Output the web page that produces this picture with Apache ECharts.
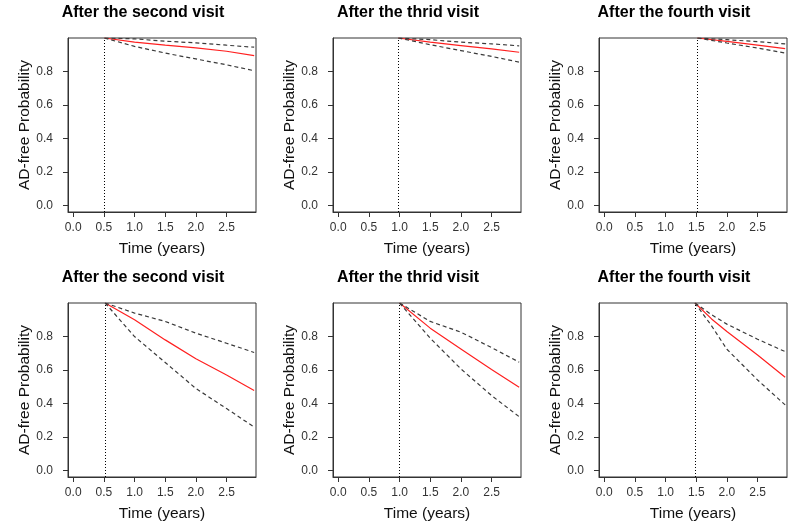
<!DOCTYPE html>
<html>
<head>
<meta charset="utf-8">
<title>AD-free Probability</title>
<script src="https://cdn.jsdelivr.net/npm/echarts@6/dist/echarts.min.js"></script>
<style>
    html, body { margin: 0; padding: 0; background: #fff; }
    #chart { width: 800px; height: 532px; }
</style>
</head>
<body>
<div id="chart"></div>
<script type="text/javascript">

    // panel titles and the visit time (dotted line) per panel
    var titles = ['After the second visit', 'After the thrid visit', 'After the fourth visit',
                  'After the second visit', 'After the thrid visit', 'After the fourth visit'];
    var visitTimes = [0.51, 0.98, 1.52, 0.52, 1.0, 1.48];

    var xTicks = [0, 0.5, 1, 1.5, 2, 2.5];
    var yTicks = [0, 0.2, 0.4, 0.6, 0.8];

    // top row
    var t1 = [0.51, 1.0, 1.5, 2.0, 2.5, 2.95];
    var est1 = [1.0, 0.975, 0.957, 0.941, 0.921, 0.895];
    var upper1 = [1.0, 0.995, 0.981, 0.971, 0.957, 0.945];
    var lower1 = [1.0, 0.95, 0.91, 0.875, 0.84, 0.805];

    var t2 = [0.98, 1.5, 2.0, 2.5, 2.95];
    var est2 = [1.0, 0.975, 0.955, 0.935, 0.915];
    var upper2 = [1.0, 0.99, 0.975, 0.965, 0.953];
    var lower2 = [1.0, 0.96, 0.925, 0.89, 0.856];

    var t3 = [1.52, 2.0, 2.5, 2.95];
    var est3 = [1.0, 0.98, 0.958, 0.937];
    var upper3 = [1.0, 0.99, 0.978, 0.965];
    var lower3 = [1.0, 0.97, 0.94, 0.91];

    // bottom row
    var t4 = [0.52, 1.0, 1.5, 2.0, 2.5, 2.95];
    var est4 = [1.0, 0.90, 0.78, 0.667, 0.571, 0.478];
    var upper4 = [1.0, 0.94, 0.89, 0.82, 0.76, 0.705];
    var lower4 = [1.0, 0.80, 0.645, 0.49, 0.37, 0.26];

    var t5 = [1.0, 1.5, 2.0, 2.5, 2.95];
    var est5 = [1.0, 0.85, 0.726, 0.603, 0.497];
    var upper5 = [1.0, 0.89, 0.826, 0.734, 0.647];
    var lower5 = [1.0, 0.79, 0.607, 0.448, 0.322];

    var t6 = [1.48, 1.75, 2.0, 2.5, 2.95];
    var est6 = [1.0, 0.905, 0.83, 0.69, 0.557];
    var upper6 = [1.0, 0.93, 0.874, 0.784, 0.71];
    var lower6 = [1.0, 0.864, 0.724, 0.541, 0.392];

    var times = [t1, t2, t3, t4, t5, t6];
    var ests = [est1, est2, est3, est4, est5, est6];
    var uppers = [upper1, upper2, upper3, upper4, upper5, upper6];
    var lowers = [lower1, lower2, lower3, lower4, lower5, lower6];

    // layout of the boxes (pixels)
    var colLeft = [68, 333, 599];
    var rowTop = [38, 303];
    var boxW = 188, boxH = 174;
    var font = '"Liberation Sans", Arial, sans-serif';

    function pairs(xs, ys) {
        return xs.map(function (x, i) { return [x, ys[i]]; });
    }

    var grids = [], xAxes = [], yAxes = [], series = [], graphics = [];

    for (var i = 0; i < 6; i++) {
        var c = i % 3, r = Math.floor(i / 3);
        grids.push({
            left: colLeft[c], top: rowTop[r], width: boxW, height: boxH,
            show: true, borderColor: '#333', borderWidth: 1, backgroundColor: 'transparent'
        });
        xAxes.push({
            type: 'value', gridIndex: i, min: -0.085, max: 2.98,
            name: 'Time (years)', nameLocation: 'middle', nameGap: 29,
            nameTextStyle: { fontFamily: font, fontSize: 15.5, color: '#111' },
            axisLine: { show: true, onZero: false, lineStyle: { color: '#333' } },
            axisTick: { show: true, length: 5, customValues: xTicks, lineStyle: { color: '#333' } },
            axisLabel: {
                customValues: xTicks, margin: 10, fontFamily: font, fontSize: 12, color: '#333',
                formatter: function (v) { return v.toFixed(1); }
            },
            splitLine: { show: false }
        });
        yAxes.push({
            type: 'value', gridIndex: i, min: -0.038, max: 1.0,
            name: 'AD-free Probability', nameLocation: 'middle', nameGap: 33,
            nameTextStyle: { fontFamily: font, fontSize: 15.5, color: '#111' },
            axisLine: { show: true, onZero: false, lineStyle: { color: '#333' } },
            axisTick: { show: true, length: 5, customValues: yTicks, lineStyle: { color: '#333' } },
            axisLabel: {
                customValues: yTicks, margin: 15, fontFamily: font, fontSize: 12, color: '#333',
                formatter: function (v) { return v.toFixed(1); }
            },
            splitLine: { show: false }
        });

        // estimate (red) with the visit time marker
        series.push({
            type: 'line', xAxisIndex: i, yAxisIndex: i,
            data: pairs(times[i], ests[i]),
            showSymbol: false, silent: true,
            lineStyle: { color: '#ff2020', width: 1.2 },
            markLine: {
                silent: true, symbol: 'none', label: { show: false },
                lineStyle: { color: '#000', width: 1, type: [1, 2] },
                data: [{ xAxis: visitTimes[i] }]
            }
        });
        // confidence bounds
        [uppers[i], lowers[i]].forEach(function (b) {
            series.push({
                type: 'line', xAxisIndex: i, yAxisIndex: i,
                data: pairs(times[i], b),
                showSymbol: false, silent: true,
                lineStyle: { color: '#3a3a3a', width: 1.2, type: [4, 3] }
            });
        });

        graphics.push({
            type: 'text',
            x: colLeft[c] + boxW / 2 - 19, y: rowTop[r] - 33,
            style: {
                text: titles[i], font: 'bold 16px ' + font, fill: '#000',
                textAlign: 'center', textVerticalAlign: 'top'
            }
        });
    }

    var chart = echarts.init(document.getElementById('chart'));
    chart.setOption({
        animation: false,
        backgroundColor: '#fff',
        grid: grids,
        xAxis: xAxes,
        yAxis: yAxes,
        series: series,
        graphic: graphics
    });

</script>
</body>
</html>
